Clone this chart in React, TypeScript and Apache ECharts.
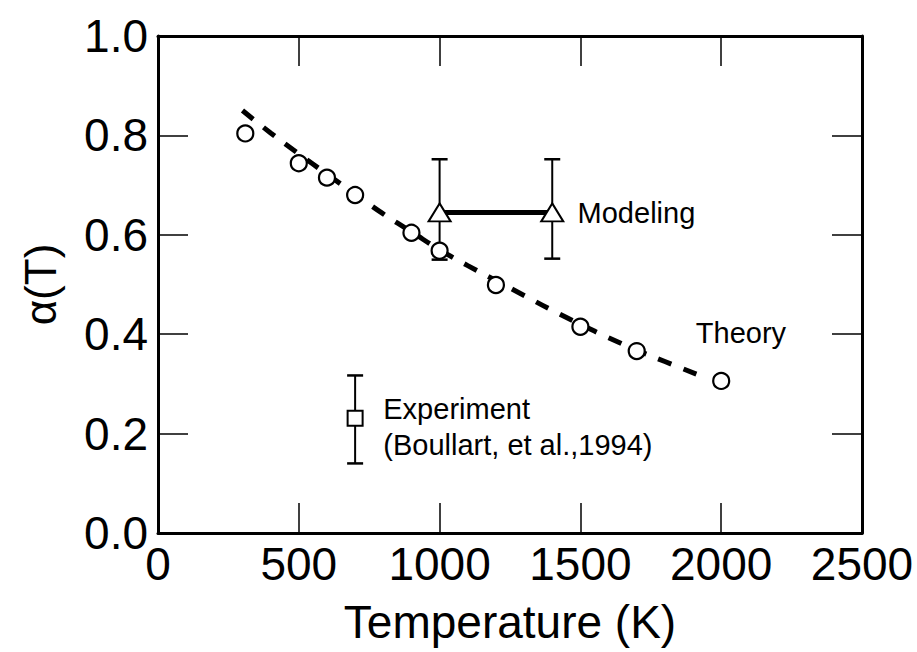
import React, { useEffect, useRef } from "react";
import * as echarts from "echarts";

// Theory curve (dashed)
const theoryCurveX = [300, 400, 500, 600, 700, 800, 900, 1000, 1100, 1200, 1300, 1400, 1500, 1600, 1700, 1800, 1915];
const theoryCurveY = [0.850, 0.805, 0.763, 0.722, 0.682, 0.642, 0.606, 0.570, 0.538, 0.508, 0.478, 0.448, 0.420, 0.393, 0.368, 0.345, 0.319];

// Theory points (open circles)
const theoryPointX = [310, 500, 600, 700, 900, 1000, 1200, 1500, 1700, 2000];
const theoryPointY = [0.804, 0.744, 0.715, 0.680, 0.604, 0.568, 0.499, 0.415, 0.366, 0.306];

// Modeling (triangles with error bars)
const modelingX = [1000, 1400];
const modelingY = [0.645, 0.645];
const modelingLow = [0.55, 0.552];
const modelingHigh = [0.752, 0.752];

// Experiment (square with error bar)
const experimentX = [700];
const experimentY = [0.231];
const experimentLow = [0.140];
const experimentHigh = [0.317];

// Annotations
const annotationText = ["Modeling", "Theory", "Experiment", "(Boullart, et al.,1994)"];
const annotationX = [1490, 1910, 800, 800];
const annotationY = [0.644, 0.402, 0.249, 0.178];

const xTicks = [0, 500, 1000, 1500, 2000, 2500];
const yTicks = [0.0, 0.2, 0.4, 0.6, 0.8, 1.0];

const FONT = "'Liberation Sans', Arial, Helvetica, sans-serif";

export default function App() {
  const ref = useRef<HTMLDivElement>(null);
  useEffect(() => {
    if (!ref.current) return;
    const chart = echarts.init(ref.current, null, { renderer: "svg" });

    const frameLine = { show: true, onZero: false, lineStyle: { color: "#000", width: 3 } };
    const insideTick = { show: true, inside: true, length: 30, lineStyle: { color: "#000", width: 1.5 } };

    const errorData = [
      ...modelingX.map((x, i) => [x, modelingLow[i], modelingHigh[i]]),
      ...experimentX.map((x, i) => [x, experimentLow[i], experimentHigh[i]]),
    ];

    const option: any = {
      animation: false,
      backgroundColor: "#fff",
      textStyle: { fontFamily: FONT, color: "#000" },
      grid: { left: 158, right: 55, top: 36, bottom: 119, containLabel: false },
      xAxis: [
        {
          type: "value",
          min: xTicks[0],
          max: xTicks[xTicks.length - 1],
          interval: 500,
          position: "bottom",
          axisLine: frameLine,
          axisTick: insideTick,
          splitLine: { show: false },
          axisLabel: {
            fontSize: 46,
            color: "#000",
            fontFamily: FONT,
            margin: 8,
            formatter: (v: number) => String(v),
          },
          name: "Temperature (K)",
          nameLocation: "middle",
          nameGap: 66,
          nameTextStyle: { fontSize: 46, color: "#000", fontFamily: FONT },
        },
        {
          type: "value",
          min: xTicks[0],
          max: xTicks[xTicks.length - 1],
          interval: 500,
          position: "top",
          axisLine: frameLine,
          axisTick: insideTick,
          splitLine: { show: false },
          axisLabel: { show: false },
        },
      ],
      yAxis: [
        {
          type: "value",
          min: yTicks[0],
          max: yTicks[yTicks.length - 1],
          interval: 0.2,
          position: "left",
          axisLine: frameLine,
          axisTick: insideTick,
          splitLine: { show: false },
          axisLabel: {
            fontSize: 46,
            color: "#000",
            fontFamily: FONT,
            margin: 10,
            formatter: (v: number) => v.toFixed(1),
          },
          name: "α(T)",
          nameLocation: "middle",
          nameGap: 96,
          nameRotate: 90,
          nameTextStyle: { fontSize: 44, color: "#000", fontFamily: FONT },
        },
        {
          type: "value",
          min: yTicks[0],
          max: yTicks[yTicks.length - 1],
          interval: 0.2,
          position: "right",
          axisLine: frameLine,
          axisTick: insideTick,
          splitLine: { show: false },
          axisLabel: { show: false },
        },
      ],
      series: [
        {
          name: "Theory curve",
          type: "line",
          data: theoryCurveX.map((x, i) => [x, theoryCurveY[i]]),
          smooth: true,
          showSymbol: false,
          symbol: "none",
          lineStyle: { color: "#000", width: 5, type: [14, 13], opacity: 1 },
          z: 1,
        },
        {
          name: "Error bars",
          type: "custom",
          data: errorData,
          renderItem: (params: any, api: any) => {
            const x = api.value(0);
            const lo = api.coord([x, api.value(1)]);
            const hi = api.coord([x, api.value(2)]);
            const cw = 8;
            return {
              type: "group",
              children: [
                { type: "line", shape: { x1: lo[0], y1: lo[1], x2: hi[0], y2: hi[1] }, style: { stroke: "#000", lineWidth: 2 } },
                { type: "line", shape: { x1: lo[0] - cw, y1: lo[1], x2: lo[0] + cw, y2: lo[1] }, style: { stroke: "#000", lineWidth: 2.5 } },
                { type: "line", shape: { x1: hi[0] - cw, y1: hi[1], x2: hi[0] + cw, y2: hi[1] }, style: { stroke: "#000", lineWidth: 2.5 } },
              ],
            };
          },
          z: 2,
        },
        {
          name: "Modeling",
          type: "line",
          data: modelingX.map((x, i) => [x, modelingY[i]]),
          symbol: "triangle",
          symbolSize: [22, 18],
          showSymbol: true,
          itemStyle: { color: "#fff", borderColor: "#000", borderWidth: 2, opacity: 1 },
          lineStyle: { color: "#000", width: 5 },
          z: 3,
        },
        {
          name: "Theory",
          type: "scatter",
          data: theoryPointX.map((x, i) => [x, theoryPointY[i]]),
          symbol: "circle",
          symbolSize: 16,
          itemStyle: { color: "#fff", borderColor: "#000", borderWidth: 2.2, opacity: 1 },
          z: 4,
        },
        {
          name: "Experiment",
          type: "scatter",
          data: experimentX.map((x, i) => [x, experimentY[i]]),
          symbol: "rect",
          symbolSize: 15,
          itemStyle: { color: "#fff", borderColor: "#000", borderWidth: 2, opacity: 1 },
          z: 4,
        },
        {
          name: "Annotations",
          type: "scatter",
          data: annotationX.map((x, i) => ({ value: [x, annotationY[i]], name: annotationText[i] })),
          symbolSize: 0,
          silent: true,
          itemStyle: { opacity: 1 },
          label: {
            show: true,
            position: "right",
            distance: 0,
            align: "left",
            verticalAlign: "middle",
            formatter: (p: any) => p.name,
            fontSize: 29,
            color: "#000",
            opacity: 1,
            fontFamily: FONT,
          },
          z: 5,
        },
      ],
    };
    chart.setOption(option);
    return () => chart.dispose();
  }, []);

  return (
    <div
      ref={ref}
      style={{ position: "fixed", left: 0, top: 0, width: 917, height: 652, background: "#fff" }}
    />
  );
}
